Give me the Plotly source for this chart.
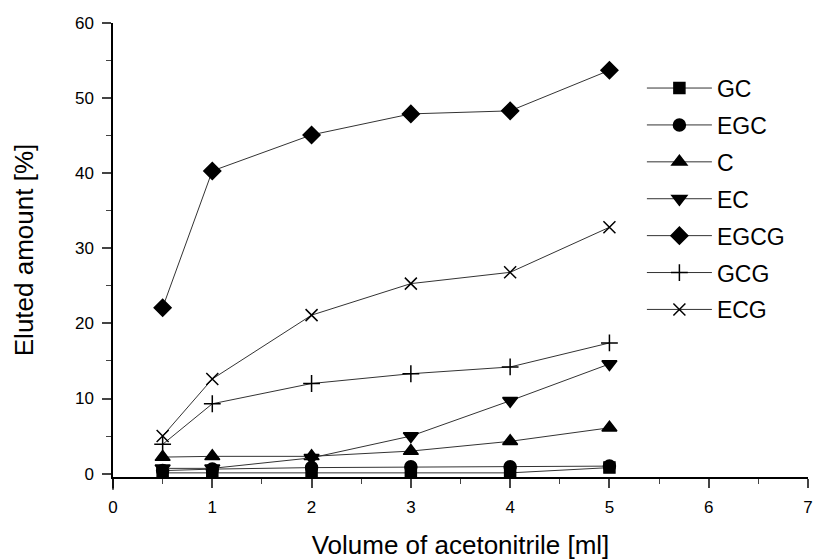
import plotly.graph_objects as go

volume = [0.5, 1, 2, 3, 4, 5]
names = ["GC", "EGC", "C", "EC", "EGCG", "GCG", "ECG"]
gc = [0.1, 0.1, 0.1, 0.1, 0.1, 0.8]
egc = [0.4, 0.6, 0.8, 0.9, 0.9, 1.0]
c = [2.2, 2.3, 2.3, 3.0, 4.3, 6.1]
ec = [0.7, 0.7, 2.1, 5.0, 9.7, 14.6]
egcg = [22.1, 40.3, 45.1, 47.9, 48.3, 53.7]
gcg = [3.9, 9.3, 12.0, 13.3, 14.2, 17.4]
ecg = [5.0, 12.6, 21.1, 25.3, 26.8, 32.8]

series = [gc, egc, c, ec, egcg, gcg, ecg]
symbols = ["square", "circle", "triangle-up", "triangle-down", "diamond", "cross-thin", "x-thin"]
sizes = [11, 12, 13, 13, 13, 12, 12]

fig = go.Figure()
for i, (n, s) in enumerate(zip(names, series)):
    fig.add_trace(go.Scatter(
        x=volume, y=s, name=n, mode="lines+markers",
        line=dict(color="#333333", width=1),
        marker=dict(symbol=symbols[i], size=sizes[i], color="black",
                    line=dict(color="black", width=1.5)),
        legendgroup=n, cliponaxis=False,
    ))

font = "Liberation Sans, Arial, sans-serif"
fig.update_layout(
    width=818, height=560,
    margin=dict(l=113, r=5, t=23, b=80),
    paper_bgcolor="white", plot_bgcolor="white",
    font=dict(family=font, color="black"),
    showlegend=True,
    legend=dict(x=0.761, y=0.904, xanchor="left", yanchor="top",
                font=dict(size=23, family=font), tracegroupgap=4,
                traceorder="grouped", bgcolor="rgba(0,0,0,0)", itemwidth=65),
    xaxis=dict(range=[0, 7], tickmode="linear", tick0=0, dtick=1,
               ticks="outside", ticklen=9, tickwidth=1.5, showgrid=False,
               zeroline=False, showline=True, linecolor="black", linewidth=1.5,
               tickfont=dict(size=17), ticklabelstandoff=5,
               minor=dict(dtick=0.5, ticks="outside", ticklen=5, tickwidth=1.2),
               title=dict(text="Volume of acetonitrile [ml]", font=dict(size=26), standoff=20)),
    yaxis=dict(range=[-0.45, 60], tickmode="linear", tick0=0, dtick=10,
               ticks="outside", ticklen=9, tickwidth=1.5, showgrid=False,
               zeroline=False, showline=True, linecolor="black", linewidth=1.5,
               tickfont=dict(size=17), ticklabelstandoff=5,
               minor=dict(dtick=5, ticks="outside", ticklen=5, tickwidth=1.2),
               title=dict(text="Eluted amount [%]", font=dict(size=26), standoff=34)),
)
fig.add_shape(type="line", xref="paper", yref="paper", x0=0, x1=0, y0=0, y1=-0.028,
              line=dict(color="black", width=1.5))
fig.write_html("out.html")
